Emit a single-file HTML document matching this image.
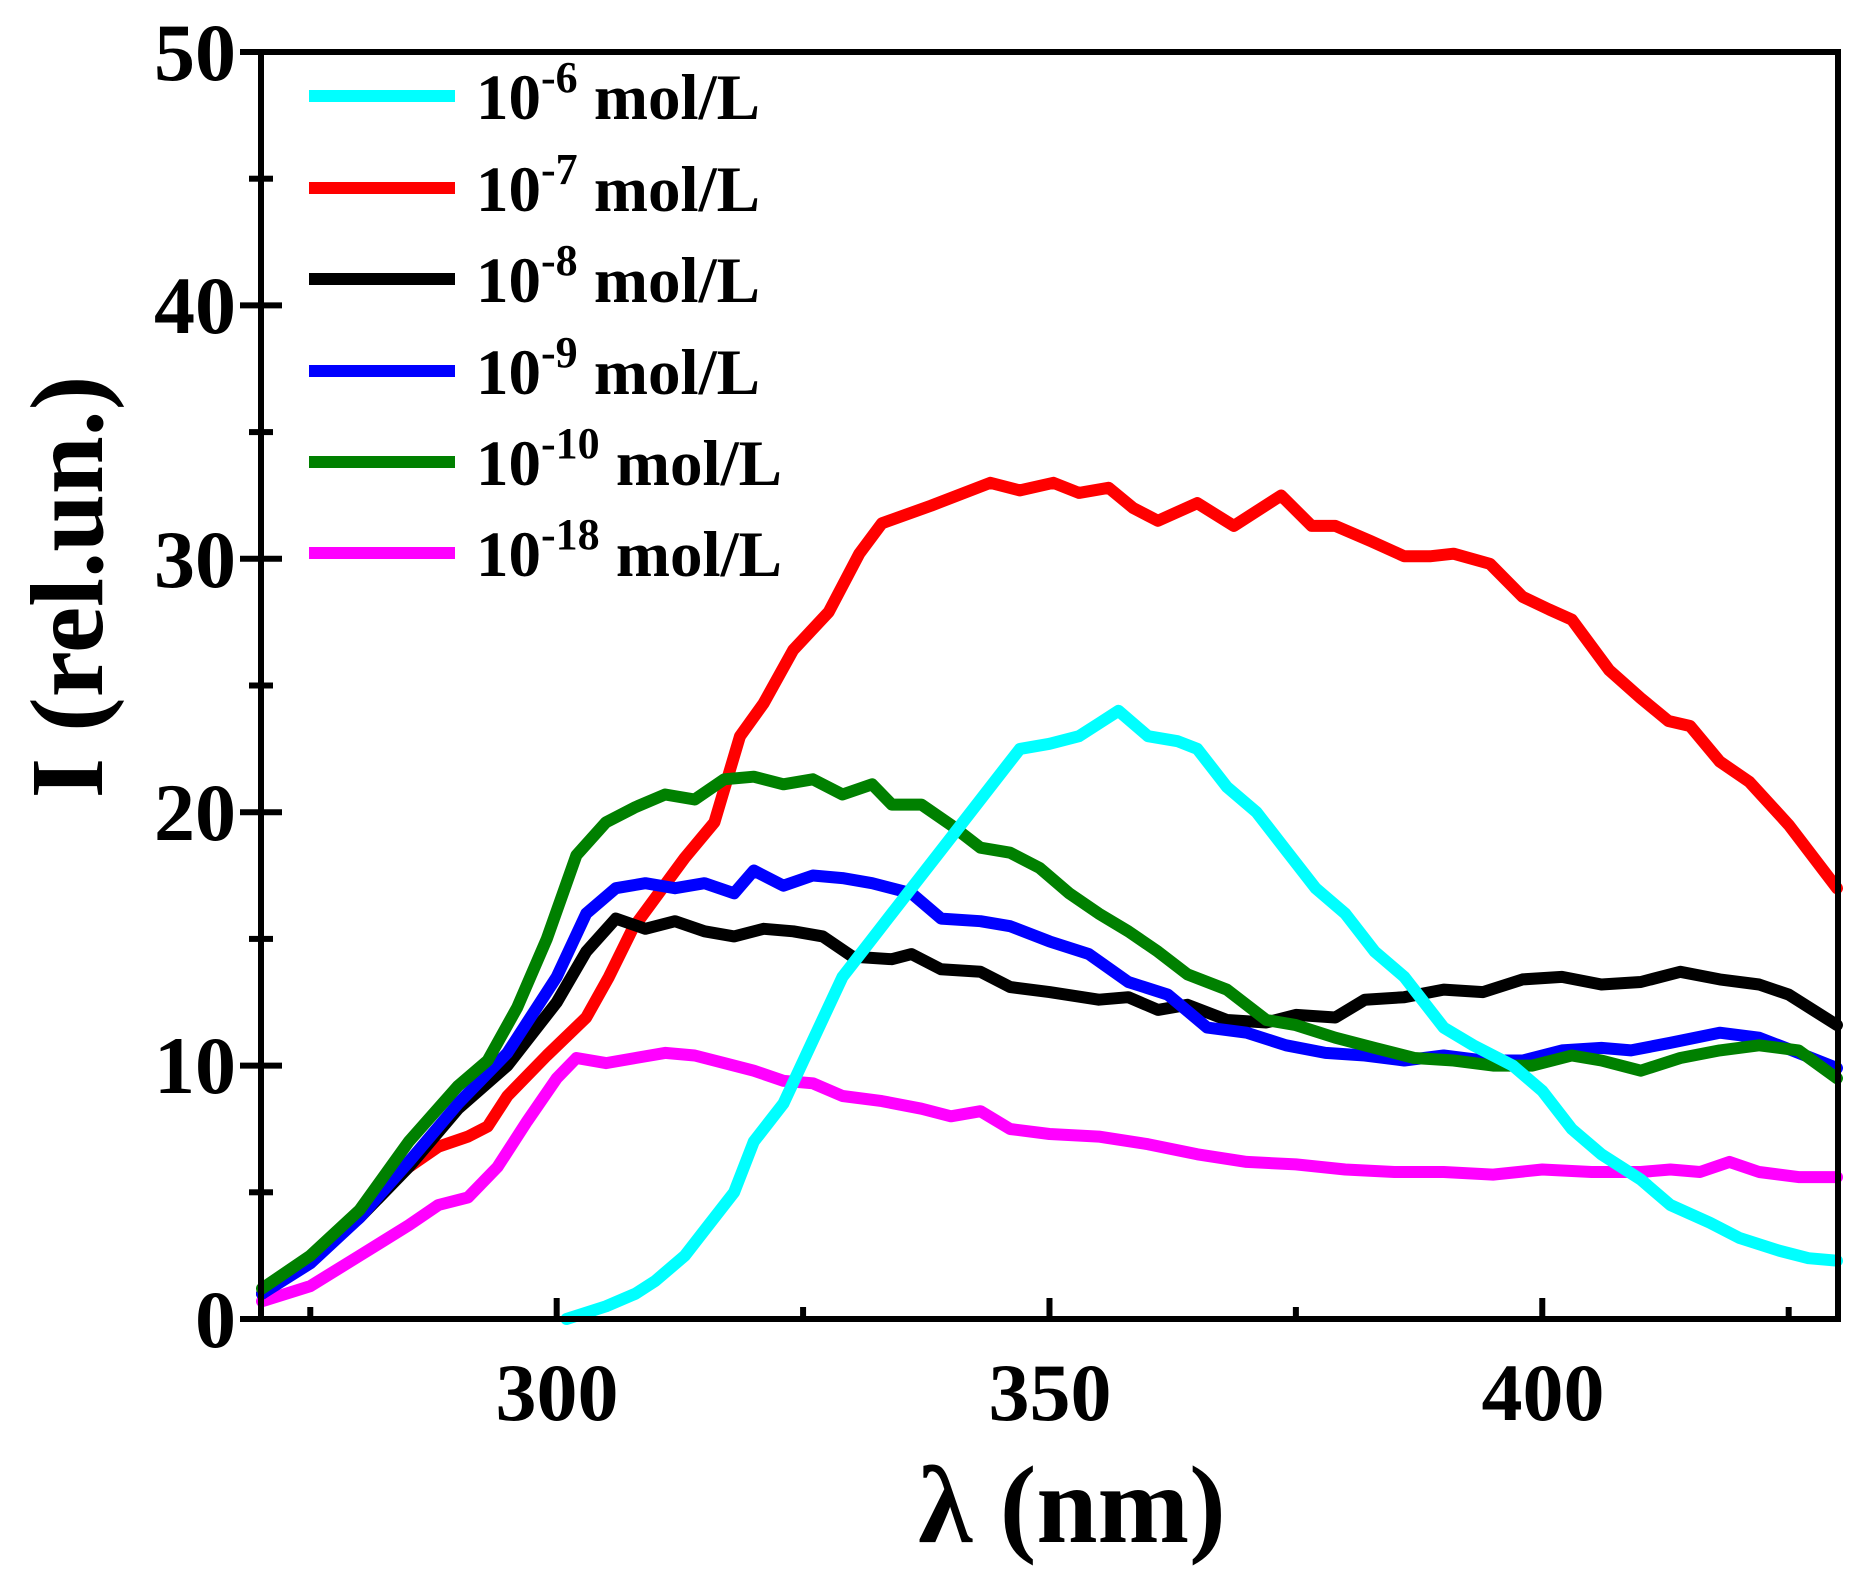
<!DOCTYPE html>
<html><head><meta charset="utf-8"><style>
html,body{margin:0;padding:0;background:#fff;}
svg{display:block;}
text{font-family:"Liberation Serif",serif;font-weight:bold;fill:#000;}
</style></head><body>
<svg id="s" width="1869" height="1574" viewBox="0 0 1869 1574" xmlns="http://www.w3.org/2000/svg">
<g id="curves" fill="none" stroke-width="12" stroke-linejoin="round" stroke-linecap="round"></g>
<rect x="261" y="52" width="1577" height="1267" fill="none" stroke="#000" stroke-width="6"/>
<g id="ticks" stroke="#000" stroke-width="6"></g>
<g font-size="82" text-anchor="end">
<text x="236" y="1347">0</text><text x="236" y="1093">10</text><text x="236" y="840">20</text>
<text x="236" y="587">30</text><text x="236" y="333">40</text><text x="236" y="80">50</text>
</g>
<g font-size="82" text-anchor="middle">
<text x="557" y="1420">300</text><text x="1050" y="1420">350</text><text x="1543" y="1420">400</text>
</g>
<text x="1072" y="1542" font-size="110" text-anchor="middle">λ (nm)</text>
<text transform="translate(102,587) rotate(-90)" font-size="104" text-anchor="middle">I (rel.un.)</text>
<g stroke-width="12">
<line x1="309" y1="96" x2="455" y2="96" stroke="#00ffff"/>
<line x1="309" y1="188" x2="455" y2="188" stroke="#ff0000"/>
<line x1="309" y1="279" x2="455" y2="279" stroke="#000"/>
<line x1="309" y1="371" x2="455" y2="371" stroke="#0000ff"/>
<line x1="309" y1="462" x2="455" y2="462" stroke="#008000"/>
<line x1="309" y1="553" x2="455" y2="553" stroke="#ff00ff"/>
</g>
<g font-size="65">
<text x="476" y="119">10<tspan font-size="44" dy="-27">-6</tspan><tspan dy="27"> mol/L</tspan></text>
<text x="476" y="211">10<tspan font-size="44" dy="-27">-7</tspan><tspan dy="27"> mol/L</tspan></text>
<text x="476" y="302">10<tspan font-size="44" dy="-27">-8</tspan><tspan dy="27"> mol/L</tspan></text>
<text x="476" y="394">10<tspan font-size="44" dy="-27">-9</tspan><tspan dy="27"> mol/L</tspan></text>
<text x="476" y="485">10<tspan font-size="44" dy="-27">-10</tspan><tspan dy="27"> mol/L</tspan></text>
<text x="476" y="576">10<tspan font-size="44" dy="-27">-18</tspan><tspan dy="27"> mol/L</tspan></text>
</g>
</svg>
<script>
var X=function(n){return 261+(n-270)*9.856;},Y=function(v){return 1319-v*25.34;};
var NS="http://www.w3.org/2000/svg";
var t=document.getElementById("ticks");
function ln(x1,y1,x2,y2){var l=document.createElementNS(NS,"line");l.setAttribute("x1",x1);l.setAttribute("y1",y1);l.setAttribute("x2",x2);l.setAttribute("y2",y2);t.appendChild(l);}
for(var v=0;v<=50;v+=5){var L=v%10==0?21:12;ln(261,Y(v),261+L,Y(v));ln(261-L,Y(v),261,Y(v));}
[275,300,325,350,375,400,425].forEach(function(n){var L=n%50==0?21:12;ln(X(n),1319,X(n),1319-L);});
var D={
"#ff00ff":[270,0.7,275,1.3,280,2.5,285,3.7,288,4.5,291,4.8,294,6,297,7.8,300,9.5,302,10.3,305,10.1,308,10.3,311,10.5,314,10.4,317,10.1,320,9.8,323,9.4,326,9.3,329,8.8,333,8.6,337,8.3,340,8.0,343,8.2,346,7.5,350,7.3,355,7.2,360,6.9,365,6.5,370,6.2,375,6.1,380,5.9,385,5.8,390,5.8,395,5.7,400,5.9,405,5.8,410,5.8,413,5.9,416,5.8,419,6.2,422,5.8,426,5.6,430,5.6],
"#ff0000":[270,1,275,2.3,280,4.2,285,6,288,6.8,291,7.2,293,7.6,295,8.8,299,10.4,303,11.9,305.3,13.5,307.7,15.4,313,18.2,316,19.6,318.6,23,321,24.3,324,26.4,327.6,27.9,330.7,30.2,333,31.4,338,32.1,344,33,347,32.7,350.4,33,353,32.6,356,32.8,358.5,32,361,31.5,365,32.2,368.7,31.3,373.5,32.5,376.6,31.3,379,31.3,382.6,30.7,386,30.1,388.6,30.1,391,30.2,394.7,29.8,398,28.5,400.7,28,403,27.6,406.8,25.6,410,24.5,412.8,23.6,415,23.4,418,22,421,21.2,425,19.5,430,17],
"#000000":[270,1,275,2.3,280,4,285,6,290,8.3,295,10,300,12.5,303,14.5,306,15.8,309,15.4,312,15.7,315,15.3,318,15.1,321,15.4,324,15.3,327,15.1,330,14.3,334,14.2,336,14.4,339,13.8,343,13.7,346,13.1,350,12.9,355,12.6,358,12.7,361,12.2,364,12.4,368,11.8,372,11.7,375,12.0,379,11.9,382,12.6,386,12.7,390,13.0,394,12.9,398,13.4,402,13.5,406,13.2,410,13.3,414,13.7,418,13.4,422,13.2,425,12.8,430,11.6],
"#0000ff":[270,1,275,2.2,280,4,285,6.2,290,8.5,295,10.5,300,13.5,303,16,306,17,309,17.2,312,17.0,315,17.2,318,16.8,320,17.7,323,17.1,326,17.5,329,17.4,332,17.2,336,16.8,339,15.8,343,15.7,346,15.5,350,14.9,354,14.4,358,13.3,362,12.8,366,11.5,370,11.3,374,10.8,378,10.5,382,10.4,386,10.2,390,10.4,394,10.2,398,10.2,402,10.6,406,10.7,409,10.6,413,10.9,418,11.3,422,11.1,426,10.5,430,9.9],
"#008000":[270,1.2,275,2.5,280,4.3,285,7,290,9.2,293,10.2,296,12.3,299,15,302,18.3,305,19.6,308,20.2,311,20.7,314,20.5,317,21.3,320,21.4,323,21.1,326,21.3,329,20.7,332,21.1,334,20.3,337,20.3,340,19.5,343,18.6,346,18.4,349,17.8,352,16.8,355,16,358,15.3,361,14.5,364,13.6,368,13.0,372,11.8,375,11.6,379,11.1,383,10.7,387,10.3,391,10.2,395,10.0,399,10.0,403,10.4,406,10.2,410,9.8,414,10.3,418,10.6,422,10.8,426,10.6,430,9.5],
"#00ffff":[301,0,305,0.5,308,1,310,1.5,313,2.5,315,3.5,318,5,320,7,323,8.5,326,11,329,13.5,332,15,335,16.5,338,18,341,19.5,344,21,347,22.5,350,22.7,353,23,355,23.5,357,24,360,23,363,22.8,365,22.5,368,21,371,20,374,18.5,377,17,380,16,383,14.5,386,13.5,390,11.5,393,10.8,397,10,400,9,403,7.5,406,6.5,410,5.5,413,4.5,417,3.8,420,3.2,424,2.7,427,2.4,430,2.3]
};
var g=document.getElementById("curves");
for(var c in D){var a=D[c],p=[];for(var i=0;i<a.length;i+=2){var x=Math.min(Math.max(X(a[i]),262),1837);p.push(x.toFixed(1)+","+Y(a[i+1]).toFixed(1));}
var pl=document.createElementNS(NS,"polyline");pl.setAttribute("points",p.join(" "));pl.setAttribute("stroke",c);g.appendChild(pl);}
</script>
</body></html>
